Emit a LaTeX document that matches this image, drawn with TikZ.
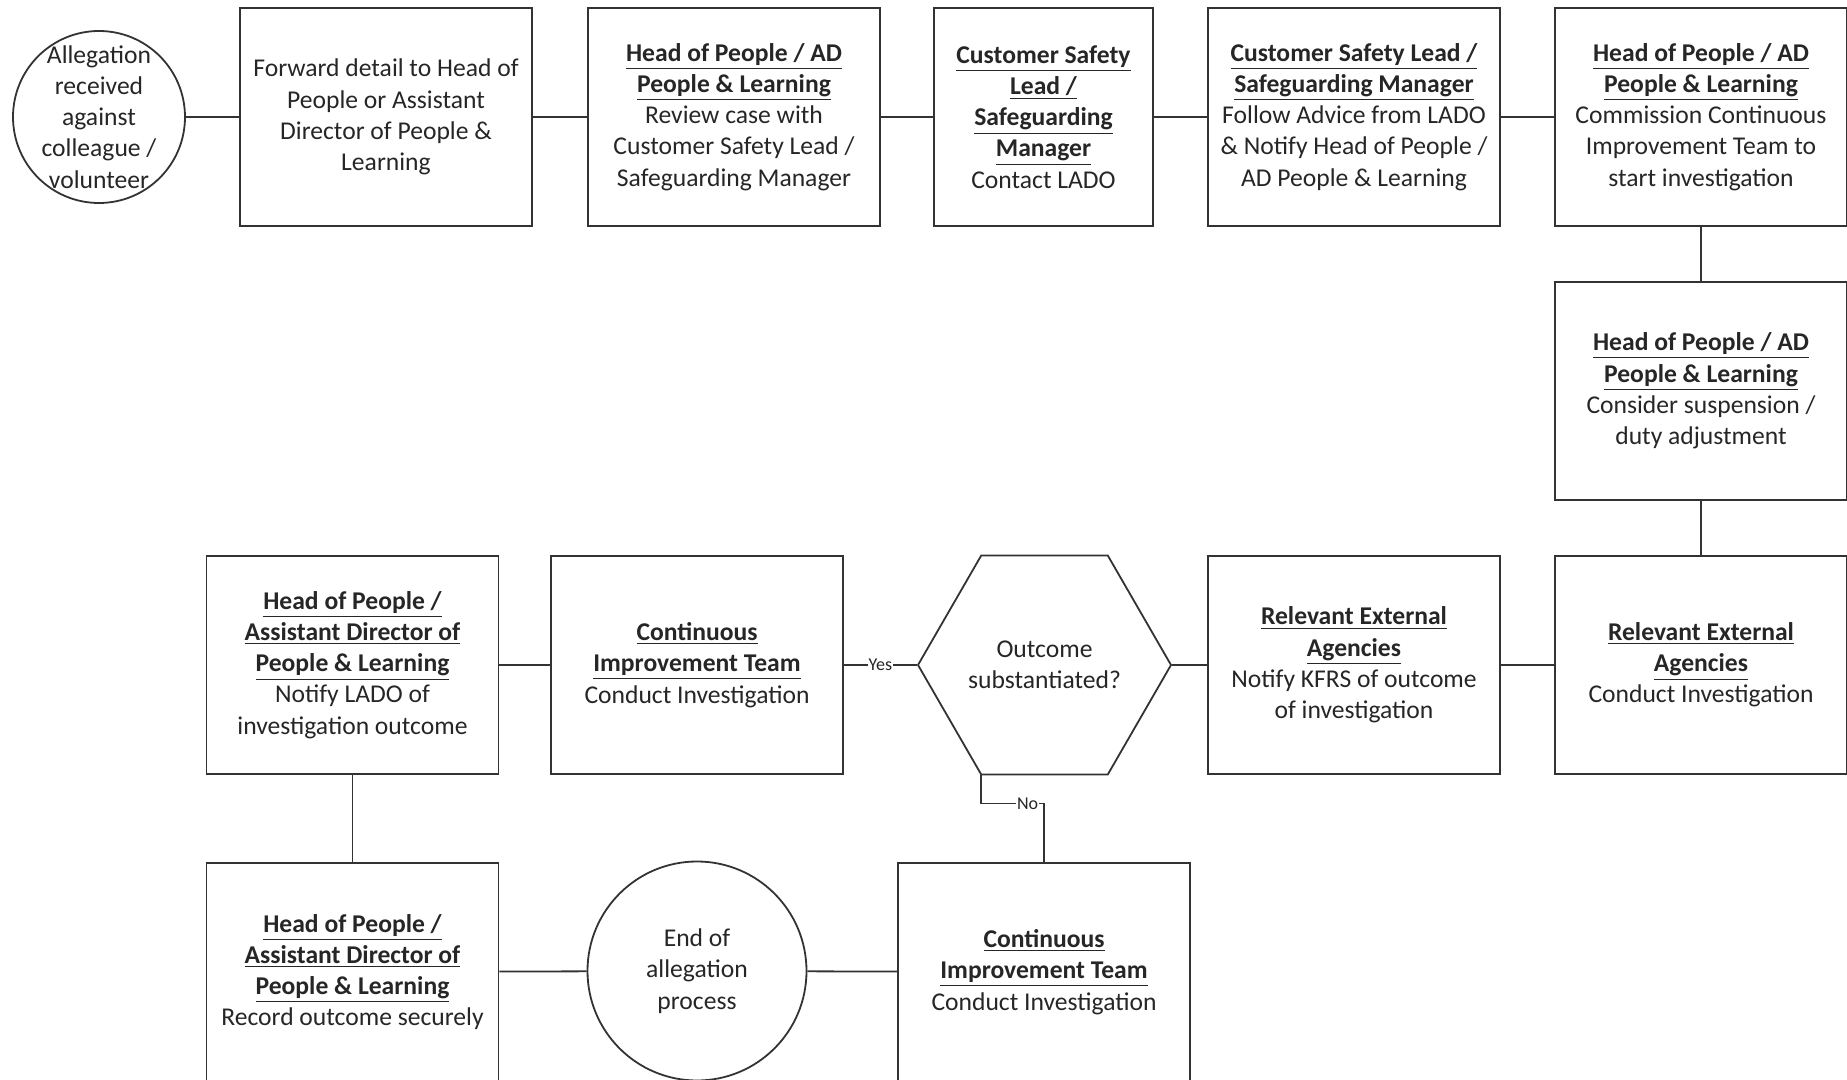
\documentclass[tikz,border=0pt]{standalone}
\usepackage{fontspec}
\setmainfont{Carlito}
\usetikzlibrary{shapes.geometric}
\newcommand{\hd}[1]{\textbf{\underline{#1}}}

\begin{document}
\begin{tikzpicture}
                \tikzset{x=0.5pt, y=-0.5pt}
                \tikzstyle{box}=[rectangle, draw=black!80, line width=0.9pt, minimum width=146pt, minimum height=109pt, align=center, inner sep=2pt, text=black!85, font=\fontsize{12.8}{15.6}\selectfont]
                \tikzstyle{circ}=[circle, draw=black!80, line width=0.9pt, inner sep=0pt, align=center, text=black!85, font=\fontsize{12.8}{15.6}\selectfont]
                \tikzstyle{hexa}=[regular polygon, regular polygon sides=6, draw=black!80, line width=0.9pt, minimum size=126.5pt, inner sep=0pt, align=center, text=black!85, font=\fontsize{12.8}{15.6}\selectfont]
                \tikzstyle{link}=[draw=black!80, line width=0.9pt]
                \tikzstyle{tag}=[fill=white, inner sep=0.5pt, text=black!85, font=\fontsize{9}{10}\selectfont]

                \useasboundingbox (0, 0) rectangle (1847, 1080);
                \clip (0, 0) rectangle (1847, 1080);

                \draw (99, 117)     node[circ, minimum size=86pt,
                                         label={[align=center, text=black!85, font=\fontsize{12.8}{15.6}\selectfont]center:Allegation\\received\\against\\colleague /\\volunteer}]
                                                    (start) {};
                \draw (386, 117)    node[box]       (fwd)   {Forward detail to Head of\\People or Assistant\\Director of People \&\\Learning};
                \draw (734, 117)    node[box]       (rev)   {\hd{Head of People / AD}\\\hd{People \& Learning}\\Review case with\\Customer Safety Lead /\\Safeguarding Manager};
                \draw (1043.5, 117) node[box, minimum width=109.5pt]
                                                    (lado)  {\hd{Customer Safety}\\\hd{Lead /}\\\hd{Safeguarding}\\\hd{Manager}\\Contact LADO};
                \draw (1354, 117)   node[box]       (adv)   {\hd{Customer Safety Lead /}\\\hd{Safeguarding Manager}\\Follow Advice from LADO\\\& Notify Head of People /\\AD People \& Learning};
                \draw (1701, 117)   node[box]       (comm)  {\hd{Head of People / AD}\\\hd{People \& Learning}\\Commission Continuous\\Improvement Team to\\start investigation};

                \draw (1701, 391)   node[box]       (susp)  {\hd{Head of People / AD}\\\hd{People \& Learning}\\Consider suspension /\\duty adjustment};

                \draw (1701, 665)   node[box]       (ext)   {\hd{Relevant External}\\\hd{Agencies}\\Conduct Investigation};
                \draw (1354, 665)   node[box]       (kfrs)  {\hd{Relevant External}\\\hd{Agencies}\\Notify KFRS of outcome\\of investigation};
                \draw (1044.5, 665) node[hexa]      (subst) {Outcome\\substantiated?};
                \draw (697, 665)    node[box]       (cit)   {\hd{Continuous}\\\hd{Improvement Team}\\Conduct Investigation};
                \draw (352.5, 665)  node[box]       (notify){\hd{Head of People /}\\\hd{Assistant Director of}\\\hd{People \& Learning}\\Notify LADO of\\investigation outcome};

                \draw (352.5, 972)  node[box]       (rec)   {\hd{Head of People /}\\\hd{Assistant Director of}\\\hd{People \& Learning}\\Record outcome securely};
                \draw (697, 971)    node[circ, minimum size=109.5pt]
                                                    (stop)  {End of\\allegation\\process};
                \draw (1044, 972)   node[box]       (cit2)  {\hd{Continuous}\\\hd{Improvement Team}\\Conduct Investigation};

                \draw [link]        (start) -- (fwd);
                \draw [link]        (fwd) -- (rev);
                \draw [link]        (rev) -- (lado);
                \draw [link]        (lado) -- (adv);
                \draw [link]        (adv) -- (comm);
                \draw [link]        (comm) -- (susp);
                \draw [link]        (susp) -- (ext);
                \draw [link]        (ext) -- (kfrs);
                \draw [link]        (kfrs.west) -- (subst.east);
                \draw [link]        (subst.west) -- node[tag] {Yes} (cit.east);
                \draw [link]        (cit) -- (notify);
                \draw [link]        (notify) -- (rec);
                \draw [link]        (rec) -- (stop);
                \draw [link]        (stop) -- (cit2);
                \draw [link]        (subst.corner 4) -- ++(0, 28) -| node[tag, pos=0.37] {No} (cit2.north);
            \end{tikzpicture}
\end{document}
